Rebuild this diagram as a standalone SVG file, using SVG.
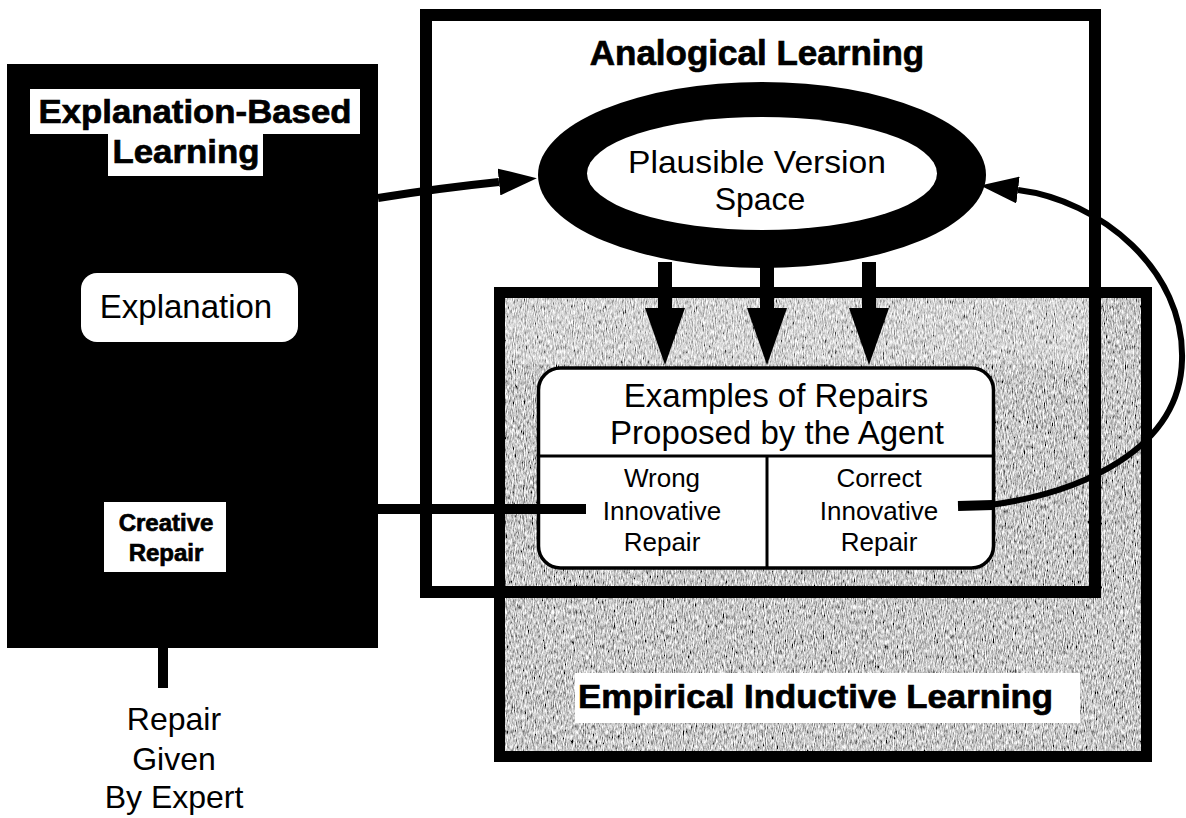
<svg xmlns="http://www.w3.org/2000/svg" width="1186" height="818" viewBox="0 0 1186 818">
<style>
text{font-family:"Liberation Sans",Arial,Helvetica,sans-serif;fill:#000}
.b{font-weight:bold;stroke:#000;stroke-width:0.7}
.c{text-anchor:middle}
.frame{fill:none;stroke:#000}
.wire{fill:none;stroke:#000;stroke-linecap:butt}
.lbl{fill:#fff}
</style>
<defs>
<filter id="grain" filterUnits="userSpaceOnUse" x="494" y="287" width="658" height="475">
<feTurbulence type="fractalNoise" baseFrequency="0.9 0.2" numOctaves="3" seed="7" result="t"/>
<feColorMatrix in="t" type="matrix" values="1 1 1 0 -0.92  1 1 1 0 -0.92  1 1 1 0 -0.92  0 0 0 0 1" result="g"/>
<feComposite in="g" in2="SourceGraphic" operator="in"/>
</filter>
<marker id="headBig" viewBox="0 0 57 40" refX="0" refY="20" markerWidth="57" markerHeight="40" markerUnits="userSpaceOnUse" orient="auto">
<path d="M0,0 L57,20 L0,40 Z" fill="#000"/>
</marker>
<marker id="headSmall" viewBox="0 0 38 27" refX="0" refY="13.5" markerWidth="38" markerHeight="27" markerUnits="userSpaceOnUse" orient="auto">
<path d="M0,0 L38,13.5 L0,27 Z" fill="#000"/>
</marker>
</defs>
<rect width="1186" height="818" fill="#fff"/>

<g id="empirical">
<rect x="494" y="287" width="658" height="475" fill="#000" filter="url(#grain)"/>
<rect x="505" y="298" width="585" height="66" fill="#fff" opacity="0.22"/>
<rect x="499.5" y="292.5" width="647" height="464" class="frame" stroke-width="11"/>
<rect x="575" y="673" width="505" height="50" class="lbl"/>
<text x="578" y="708" class="b" font-size="34" textLength="475" lengthAdjust="spacingAndGlyphs">Empirical Inductive Learning</text>
</g>

<g id="analogical">
<rect x="426" y="15" width="669" height="577" class="frame" stroke-width="12"/>
<text x="757" y="65" class="b c" font-size="35">Analogical Learning</text>
</g>

<g id="ebl">
<rect x="7" y="64" width="371" height="584" fill="#000"/>
<rect x="30" y="89" width="330" height="45" class="lbl"/>
<rect x="108" y="134" width="155" height="42" class="lbl"/>
<text x="195" y="123" class="b c" font-size="34" textLength="313" lengthAdjust="spacingAndGlyphs">Explanation-Based</text>
<text x="186" y="163" class="b c" font-size="34" textLength="147" lengthAdjust="spacingAndGlyphs">Learning</text>
</g>

<g id="explanation">
<rect x="81" y="273" width="217" height="69" rx="16" fill="#fff"/>
<text x="186" y="318" class="c" font-size="33">Explanation</text>
</g>

<g id="creative-repair">
<rect x="104" y="502" width="122" height="70" fill="#fff"/>
<text x="166" y="531" class="b c" font-size="24" stroke-width="0.3">Creative</text>
<text x="166" y="561" class="b c" font-size="24" stroke-width="0.3">Repair</text>
</g>

<g id="expert">
<text x="174" y="730" class="c" font-size="32">Repair</text>
<text x="174" y="770" class="c" font-size="32">Given</text>
<text x="174" y="808" class="c" font-size="32">By Expert</text>
</g>

<g id="pvs">
<ellipse cx="762" cy="175" rx="224" ry="93" fill="#000"/>
<ellipse cx="762" cy="173.5" rx="175" ry="56.5" fill="#fff"/>
<text x="757" y="173" class="c" font-size="32" textLength="258" lengthAdjust="spacingAndGlyphs">Plausible Version</text>
<text x="760" y="210" class="c" font-size="32">Space</text>
</g>

<g id="examples">
<rect x="538.5" y="368" width="455" height="200" rx="22" fill="#fff" stroke="#000" stroke-width="3.5"/>
<line x1="538.5" y1="456" x2="993.5" y2="456" stroke="#000" stroke-width="3"/>
<line x1="767" y1="456" x2="767" y2="568" stroke="#000" stroke-width="3"/>
<text x="776" y="407" class="c" font-size="33">Examples of Repairs</text>
<text x="777" y="444" class="c" font-size="33">Proposed by the Agent</text>
<text x="662" y="487" class="c" font-size="26">Wrong</text>
<text x="662" y="520" class="c" font-size="26">Innovative</text>
<text x="662" y="551" class="c" font-size="26">Repair</text>
<text x="879" y="487" class="c" font-size="26">Correct</text>
<text x="879" y="520" class="c" font-size="26">Innovative</text>
<text x="879" y="551" class="c" font-size="26">Repair</text>
</g>

<g id="connectors">
<path d="M378,198 Q440,188 499,182" class="wire" stroke-width="8" marker-end="url(#headSmall)"/>
<line x1="665" y1="262" x2="665" y2="308" class="wire" stroke-width="14" marker-end="url(#headBig)"/>
<line x1="767" y1="262" x2="767" y2="308" class="wire" stroke-width="14" marker-end="url(#headBig)"/>
<line x1="869" y1="262" x2="869" y2="308" class="wire" stroke-width="14" marker-end="url(#headBig)"/>
<line x1="163" y1="648" x2="163" y2="688" class="wire" stroke-width="10"/>
<line x1="378" y1="509" x2="586" y2="509" class="wire" stroke-width="10"/>
<line x1="958" y1="506" x2="993" y2="505" class="wire" stroke-width="10"/>
<path d="M990,505 C1080,493 1180,450 1182,360 C1185,270 1100,200 1018,190" class="wire" stroke-width="6" marker-end="url(#headSmall)"/>
</g>
</svg>
